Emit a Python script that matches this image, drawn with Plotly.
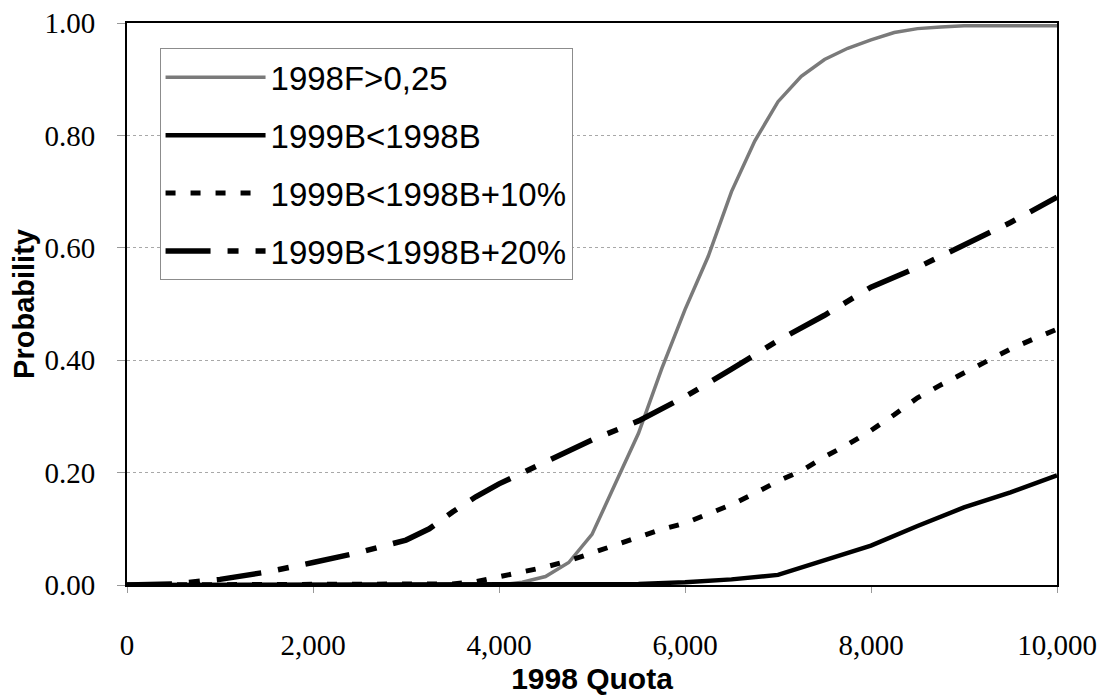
import plotly.graph_objects as go

# Data
quota_f = [0, 1000, 2000, 3000, 4000, 4250, 4500, 4750, 5000, 5250, 5500, 5750, 6000,
           6250, 6500, 6750, 7000, 7250, 7500, 7750, 8000, 8250, 8500, 8750, 9000, 10000]
prob_f = [0, 0, 0, 0, 0, 0.005, 0.015, 0.04, 0.09, 0.18, 0.27, 0.385, 0.49,
          0.585, 0.70, 0.79, 0.86, 0.905, 0.935, 0.955, 0.97, 0.983, 0.99, 0.993, 0.995, 0.995]

quota_b = [0, 1000, 2000, 3000, 4000, 5000, 5500, 6000, 6500, 7000, 7500, 8000, 8500, 9000, 9500, 10000]
prob_b = [0, 0, 0, 0, 0, 0, 0.002, 0.005, 0.01, 0.018, 0.045, 0.07, 0.105, 0.138, 0.165, 0.195]

quota_b10 = [0, 1000, 2000, 3000, 3500, 3750, 4000, 4250, 4500, 4750, 5000, 5250, 5500, 5750,
             6000, 6250, 6500, 6750, 7000, 7250, 7500, 7750, 8000, 8250, 8500, 8750, 9000,
             9250, 9500, 9750, 10000]
prob_b10 = [0, 0, 0, 0, 0.002, 0.006, 0.015, 0.022, 0.032, 0.043, 0.057, 0.07, 0.084, 0.099,
            0.11, 0.126, 0.143, 0.163, 0.185, 0.203, 0.228, 0.25, 0.275, 0.303, 0.333, 0.356, 0.377,
            0.398, 0.42, 0.438, 0.455]

quota_b20 = [0, 500, 1000, 1500, 2000, 2500, 3000, 3250, 3500, 3750, 4000, 4500, 5000, 5500,
             6000, 6500, 7000, 7500, 8000, 8500, 9000, 9500, 10000]
prob_b20 = [0, 0.002, 0.01, 0.023, 0.04, 0.058, 0.08, 0.10, 0.13, 0.157, 0.18, 0.218, 0.258, 0.292,
            0.335, 0.384, 0.435, 0.48, 0.53, 0.565, 0.605, 0.645, 0.69]

names = ["1998F>0,25", "1999B<1998B", "1999B<1998B+10%", "1999B<1998B+20%"]

x_ticks = [0, 2000, 4000, 6000, 8000, 10000]
y_ticks = [0, 0.2, 0.4, 0.6, 0.8, 1.0]

fig = go.Figure()
fig.add_trace(go.Scatter(x=quota_f, y=prob_f, mode="lines", name=names[0], legendgroup="a",
                         line=dict(color="#7a7a7a", width=3.5)))
fig.add_trace(go.Scatter(x=quota_b, y=prob_b, mode="lines", name=names[1], legendgroup="b",
                         line=dict(color="black", width=4.5)))
fig.add_trace(go.Scatter(x=quota_b10, y=prob_b10, mode="lines", name=names[2], legendgroup="c",
                         line=dict(color="black", width=5, dash="10px,15px")))
fig.add_trace(go.Scatter(x=quota_b20, y=prob_b20, mode="lines", name=names[3], legendgroup="d",
                         line=dict(color="black", width=5.5, dash="45px,17px,11px,17px")))

fig.update_layout(
    width=1101, height=687,
    margin=dict(l=119, r=52, t=15, b=110),
    paper_bgcolor="white", plot_bgcolor="white",
    font=dict(family="Liberation Sans, Arial", color="black"),
    legend=dict(
        x=0.035, y=0.955, xanchor="left", yanchor="top",
        bordercolor="#8c8c8c", borderwidth=1, bgcolor="white",
        font=dict(family="Liberation Sans, Arial", size=33, color="black"),
        tracegroupgap=12, itemwidth=100,
    ),
)
fig.update_xaxes(
    range=[0, 10000], tickvals=x_ticks, tickformat=",d", automargin=False,
    ticklabeloverflow="allow",
    showline=True, mirror=True, linecolor="black", linewidth=2,
    showgrid=False, zeroline=False,
    ticks="outside", ticklen=6, tickcolor="#999999", ticklabelstandoff=27,
    tickfont=dict(family="Liberation Serif, Times New Roman", size=29, color="black"),
    title=dict(text="<b>1998 Quota</b>", font=dict(family="Liberation Sans, Arial", size=30), standoff=14),
)
fig.update_yaxes(
    range=[0, 1.0], tickvals=y_ticks, tickformat=".2f", automargin=False,
    ticklabeloverflow="allow",
    showline=True, mirror=True, linecolor="black", linewidth=2,
    showgrid=True, gridcolor="#a8a8a8", gridwidth=1, griddash="dot", zeroline=False,
    ticks="outside", ticklen=8, tickcolor="#999999", ticklabelstandoff=16,
    tickfont=dict(family="Liberation Serif, Times New Roman", size=29, color="black"),
    title=dict(text="<b>Probability</b>", font=dict(family="Liberation Sans, Arial", size=29), standoff=4),
)

fig.write_html("out.html")
